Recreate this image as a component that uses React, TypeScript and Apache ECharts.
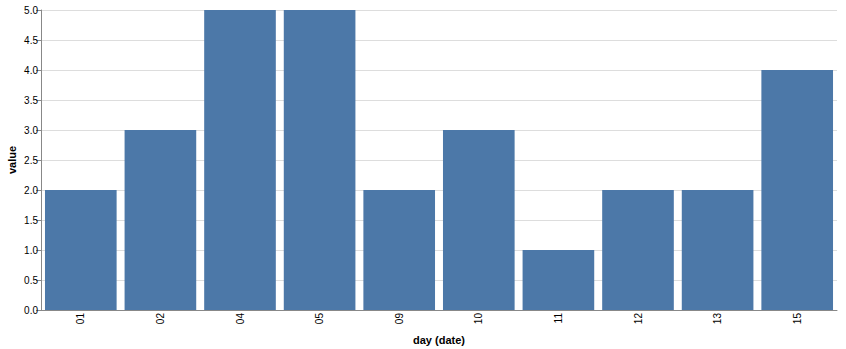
import React, { useEffect, useRef } from "react";
import * as echarts from "echarts";

const days = ["01", "02", "04", "05", "09", "10", "11", "12", "13", "15"];
const values = [2, 3, 5, 5, 2, 3, 1, 2, 2, 4];

export default function App() {
  const ref = useRef<HTMLDivElement>(null);
  useEffect(() => {
    document.body.style.margin = "0";
    const chart = echarts.init(ref.current!, null, { renderer: "svg" });
    const font = "'Liberation Sans', Arial, Helvetica, sans-serif";
    chart.setOption({
      animation: false,
      grid: {
        left: 41,
        top: 10,
        width: 796,
        height: 300,
        containLabel: false,
        outerBoundsMode: "none",
      },
      xAxis: {
        type: "category",
        data: days,
        name: "day (date)",
        nameLocation: "middle",
        nameGap: 24,
        nameMoveOverlap: false,
        nameTextStyle: { fontFamily: font, fontSize: 11, fontWeight: "bold", color: "#000" },
        axisLine: { lineStyle: { color: "#888" } },
        axisTick: { alignWithLabel: true, length: 5, lineStyle: { color: "#888" } },
        axisLabel: { rotate: 90, fontFamily: font, fontSize: 10, color: "#000", margin: 3 },
        splitLine: { show: false },
      },
      yAxis: {
        type: "value",
        min: 0,
        max: 5,
        interval: 0.5,
        name: "value",
        nameLocation: "middle",
        nameGap: 24,
        nameMoveOverlap: false,
        nameTextStyle: { fontFamily: font, fontSize: 11, fontWeight: "bold", color: "#000" },
        axisLine: { show: true, lineStyle: { color: "#888" } },
        axisTick: { show: true, length: 5, lineStyle: { color: "#888" } },
        axisLabel: {
          fontFamily: font,
          fontSize: 10,
          color: "#000",
          margin: 3,
          formatter: (v: number) => v.toFixed(1),
        },
        splitLine: { lineStyle: { color: "#ddd" } },
      },
      series: [
        {
          type: "bar",
          data: values,
          barCategoryGap: "10%",
          itemStyle: { color: "#4c78a8" },
        },
      ],
    });
    return () => chart.dispose();
  }, []);
  return <div ref={ref} style={{ width: 846, height: 349 }} />;
}
